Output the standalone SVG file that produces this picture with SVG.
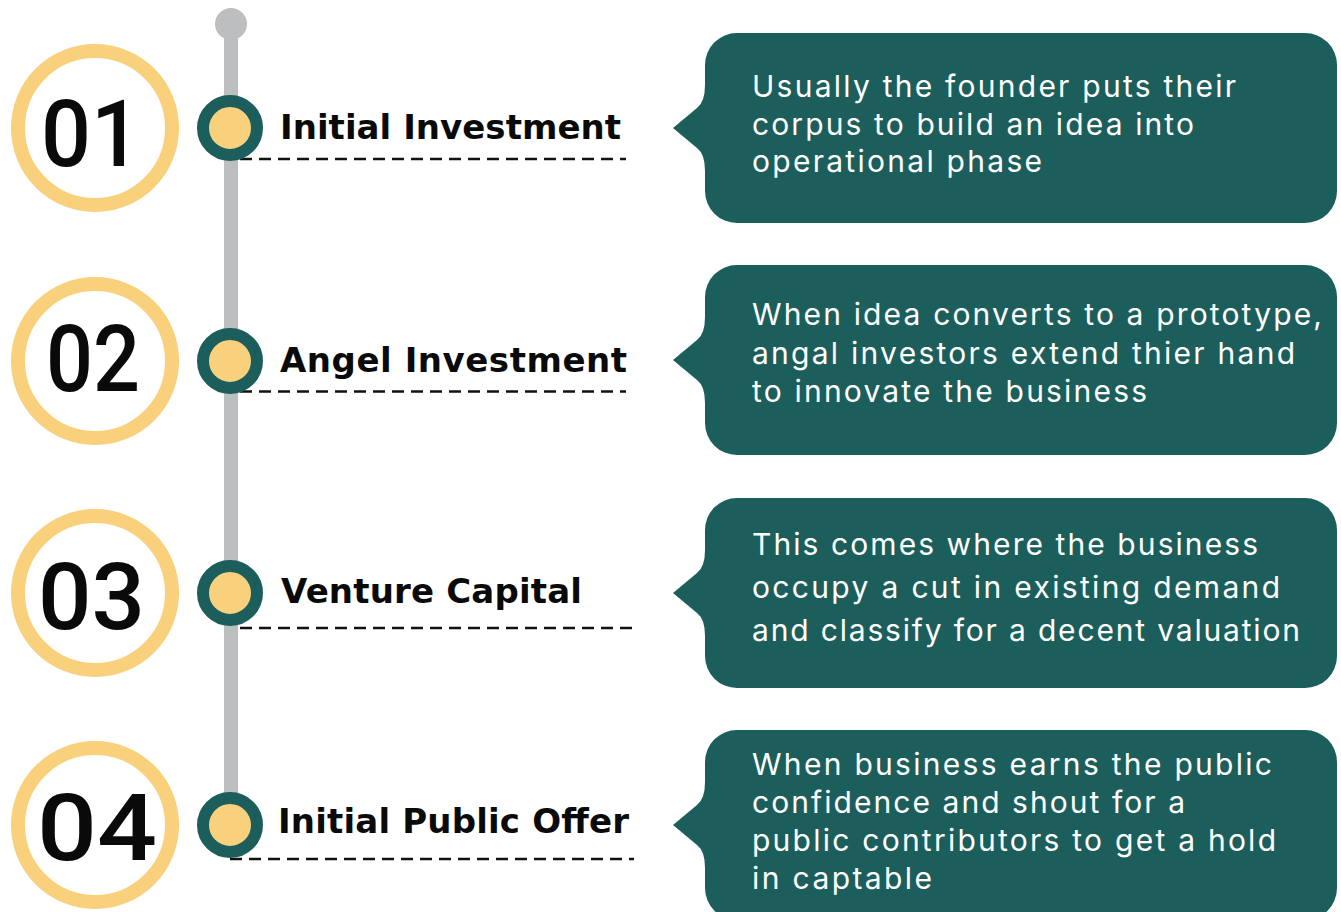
<svg xmlns="http://www.w3.org/2000/svg" xmlns:xlink="http://www.w3.org/1999/xlink" width="1341" height="912" viewBox="0 0 1341 912">
  <defs>
    <style>
      .num { font-family: Roboto, "Liberation Sans", sans-serif; font-weight: 500; font-size: 92px; fill: #0a0a0a; }
      .label { font-family: "DejaVu Sans", "Liberation Sans", sans-serif; font-weight: 700; font-size: 34px; fill: #0a0a0a; }
      .body { font-family: Inter, "Noto Sans", "Liberation Sans", sans-serif; font-weight: 400; font-size: 30px; fill: #ffffff; }
      .ring { fill: none; stroke: #F9D07B; stroke-width: 14; }
      .dot { fill: #F9D07B; stroke: #1C5E5B; stroke-width: 12; }
      .dash { stroke: #111111; stroke-width: 2.5; stroke-dasharray: 12 7; fill: none; }
      .bubble { fill: #1C5E5B; }
    </style>
    <!-- speech bubble, pointer tip at (673,0) -->
    <path id="bubble" d="M737,-95 H1305 A32,32 0 0 1 1337,-63 V63 A32,32 0 0 1 1305,95 H737 A32,32 0 0 1 705,63 V43 Q705,26 697,20 L673,0 L697,-20 Q705,-26 705,-43 V-63 A32,32 0 0 1 737,-95 Z"/>
  </defs>

  <!-- timeline spine -->
  <g id="connectors">
    <line x1="231" y1="24" x2="231" y2="800" stroke="#BCBEC0" stroke-width="14"/>
    <circle cx="231" cy="24" r="16" fill="#BCBEC0"/>
    <line class="dash" x1="240" y1="159" x2="626" y2="159"/>
    <line class="dash" x1="240" y1="391.5" x2="626" y2="391.5"/>
    <line class="dash" x1="240" y1="628" x2="632" y2="628"/>
    <line class="dash" x1="230" y1="859" x2="634" y2="859"/>
  </g>

  <g id="step-01">
    <circle class="ring" cx="95" cy="128" r="77"/>
    <text class="num" x="41" y="166" textLength="100" lengthAdjust="spacingAndGlyphs">01</text>
    <circle class="dot" cx="230" cy="128" r="27"/>
    <text class="label" x="280" y="139" textLength="341">Initial Investment</text>
    <use xlink:href="#bubble" class="bubble" transform="translate(0,128)"/>
    <text class="body" x="752" y="97" textLength="484">Usually the founder puts their</text>
    <text class="body" x="752" y="134.5" textLength="442">corpus to build an idea into</text>
    <text class="body" x="752" y="172" textLength="290">operational phase</text>
  </g>

  <g id="step-02">
    <circle class="ring" cx="95" cy="361" r="77"/>
    <text class="num" x="46" y="391" textLength="94" lengthAdjust="spacingAndGlyphs">02</text>
    <circle class="dot" cx="230" cy="361" r="27"/>
    <text class="label" x="280" y="372" textLength="347">Angel Investment</text>
    <use xlink:href="#bubble" class="bubble" transform="translate(0,360)"/>
    <text class="body" x="752" y="325" textLength="570">When idea converts to a prototype,</text>
    <text class="body" x="752" y="363.5" textLength="543">angal investors extend thier hand</text>
    <text class="body" x="752" y="402" textLength="395">to innovate the business</text>
  </g>

  <g id="step-03">
    <circle class="ring" cx="95" cy="593" r="77"/>
    <text class="num" x="38" y="629" textLength="107" lengthAdjust="spacingAndGlyphs">03</text>
    <circle class="dot" cx="230" cy="593" r="27"/>
    <text class="label" x="281" y="603" textLength="301">Venture Capital</text>
    <use xlink:href="#bubble" class="bubble" transform="translate(0,593)"/>
    <text class="body" x="752" y="555" textLength="506">This comes where the business</text>
    <text class="body" x="752" y="598" textLength="528">occupy a cut in existing demand</text>
    <text class="body" x="752" y="641" textLength="548">and classify for a decent valuation</text>
  </g>

  <g id="step-04">
    <circle class="ring" cx="95" cy="825" r="77"/>
    <text class="num" x="37" y="860" textLength="120" lengthAdjust="spacingAndGlyphs">04</text>
    <circle class="dot" cx="230" cy="825" r="27"/>
    <text class="label" x="278" y="833" textLength="351">Initial Public Offer</text>
    <use xlink:href="#bubble" class="bubble" transform="translate(0,825)"/>
    <text class="body" x="752" y="775" textLength="520">When business earns the public</text>
    <text class="body" x="752" y="813" textLength="433">confidence and shout for a</text>
    <text class="body" x="752" y="851" textLength="524">public contributors to get a hold</text>
    <text class="body" x="752" y="889" textLength="180">in captable</text>
  </g>
</svg>
